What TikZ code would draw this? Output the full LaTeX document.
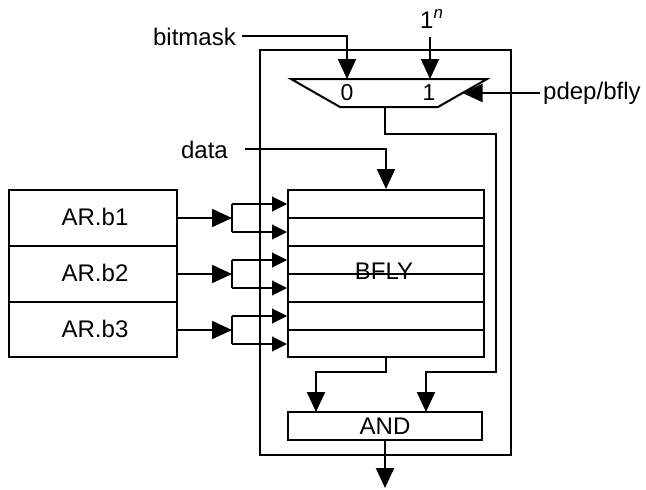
\documentclass[tikz,border=0pt]{standalone}
\usepackage{fontspec}
\setmainfont{Liberation Sans}
\usetikzlibrary{arrows.meta}
\begin{document}
\begin{tikzpicture}[x=1pt,y=-1pt,
  thickline/.style={line width=2pt},
  thinline/.style={line width=1.1pt},
  bigarr/.style={thickline,-{Triangle[length=20pt,width=18pt]}},
  smallarr/.style={thinline,-{Triangle[length=15pt,width=15pt]}},
  lbl/.style={inner sep=0pt,font=\fontsize{24}{28}\selectfont},
  muxlbl/.style={inner sep=0pt,font=\fontsize{23}{27}\selectfont},
  boxnode/.style={draw,thickline,inner sep=0pt,font=\fontsize{24}{28}\selectfont},
]
\useasboundingbox (0,0) rectangle (646,490);

% outer box
\node[boxnode,minimum width=251pt,minimum height=405pt] (outer) at (385.5,252.5) {};

% mux
\coordinate (mtl) at (291,79);
\coordinate (mtr) at (487,79);
\coordinate (mbr) at (438,107);
\coordinate (mbl) at (340,107);
\draw[thickline,line join=miter] (mtl) -- (mtr) -- (mbr) -- (mbl) -- cycle;
\coordinate (mux0) at (347,79);
\coordinate (mux1) at (430,79);
\coordinate (muxr) at (462.5,93);
\coordinate (muxo) at (385,107);
\node[muxlbl,anchor=base] (l0) at (347,100) {0};
\node[muxlbl,anchor=base] (l1) at (429,100) {1};

% inputs to mux
\node[lbl,anchor=east] (bitmask) at (236,37) {bitmask};
\coordinate (bm) at (242,36);
\draw[bigarr] (bm) -| (mux0);
\node[lbl,anchor=base west] (onen) at (420,28) {1\textsuperscript{\itshape n}};
\coordinate (one) at (430,37);
\draw[bigarr] (one) -- (mux1);
\node[lbl,anchor=west] (pdep) at (543,93) {pdep/bfly};
\coordinate (pd) at (540,93);
\draw[bigarr] (pd) -- (muxr);

% BFLY
\node[boxnode,minimum width=196pt,minimum height=167pt] (bfly) at (386,273.5) {};
\foreach \yy in {218,246,274,302,330}
  \draw[thinline] (bfly.west |- 0,\yy) -- (bfly.east |- 0,\yy);
\node[lbl] (bflytxt) at (384,271) {BFLY};

% data
\node[lbl,anchor=east] (data) at (228,150) {data};
\coordinate (dt) at (245,149);
\draw[bigarr] (dt) -| (bfly.north);

% AND
\node[boxnode,minimum width=194pt,minimum height=28pt] (and) at (385,426) {AND};

% mux output to AND
\coordinate (c1) at (496,134);
\coordinate (c2) at (426,372);
\coordinate (c3) at (426,412);
\draw[bigarr] (muxo) |- (c1) |- (c2) -- (c3);

% BFLY output to AND
\coordinate (b0) at (386,357);
\coordinate (b2) at (316,372);
\coordinate (b3) at (316,412);
\draw[bigarr] (b0) |- (b2) -- (b3);

% AND output
\coordinate (out) at (385,488);
\draw[bigarr] (and.south) -- (out);

% AR boxes
\node[boxnode,minimum width=168pt,minimum height=56pt] (ar1) at (93,218) {};
\node[boxnode,minimum width=168pt,minimum height=56pt] (ar2) at (93,274) {};
\node[boxnode,minimum width=168pt,minimum height=55pt] (ar3) at (93,329.5) {};
\node[lbl] (ar1t) at (95,217) {AR.b1};
\node[lbl] (ar2t) at (95,273) {AR.b2};
\node[lbl] (ar3t) at (95,329) {AR.b3};

\foreach \i/\yc in {1/218,2/274,3/330}{
  \coordinate (s\i) at (232,\yc);
  \coordinate (su\i) at (232,\yc-14);
  \coordinate (sd\i) at (232,\yc+14);
  \draw[bigarr] (ar\i.east |- s\i) -- (s\i);
  \draw[thinline] (su\i) -- (sd\i);
  \draw[smallarr] (su\i) -- (bfly.west |- su\i);
  \draw[smallarr] (sd\i) -- (bfly.west |- sd\i);
}
\end{tikzpicture}
\end{document}
